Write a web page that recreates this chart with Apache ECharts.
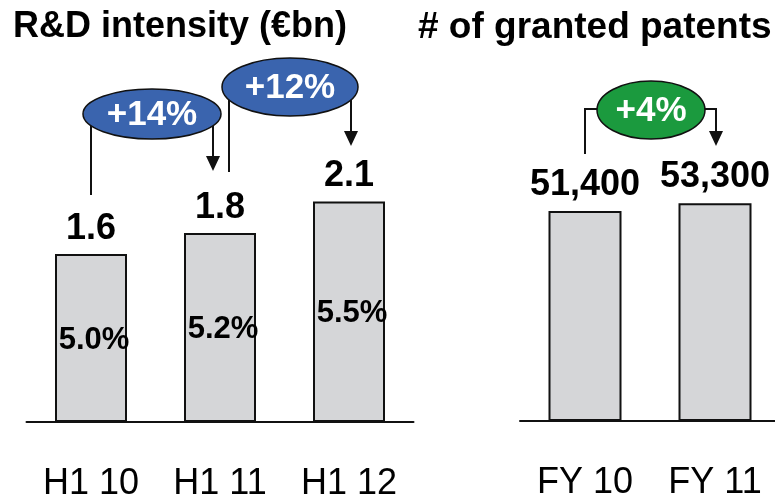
<!DOCTYPE html>
<html>
<head>
<meta charset="utf-8">
<script src="https://cdn.jsdelivr.net/npm/echarts@6/dist/echarts.min.js"></script>
<style>
  html, body { margin: 0; padding: 0; background: #fff; }
  #main { width: 775px; height: 495px; }
</style>
</head>
<body>
<div id="main"></div>
<script>
// R&D intensity (left panel)
const rdCategories = ['H1 10', 'H1 11', 'H1 12']
const rdValues = [1.6, 1.8, 2.1]
const rdIntensity = ['5.0%', '5.2%', '5.5%']
const rdGrowth = ['+14%', '+12%']

// granted patents (right panel)
const patCategories = ['FY 10', 'FY 11']
const patValues = [51400, 53300]
const patGrowth = ['+4%']

const FONT = 'Liberation Sans, Arial, sans-serif'
const BAR_FILL = '#d5d6d8'
const BLUE = '#3a64ae'
const GREEN = '#1b9a3e'

const myChart = echarts.init(document.getElementById('main'))

const axisX = (cats, idx) => ({
  type: 'category',
  gridIndex: idx,
  data: cats,
  axisLine: { lineStyle: { color: '#111', width: 2 } },
  axisTick: { show: false },
  axisLabel: { color: '#000', fontSize: 36, fontFamily: FONT, margin: 44 }
})
const axisY = (idx, max) => ({
  type: 'value', gridIndex: idx, min: 0, max: max, show: false, splitLine: { show: false }
})

const option = {
  animation: false,
  title: [
    { text: 'R&D intensity (€bn)', left: 13, top: 9, padding: 0,
      textStyle: { fontSize: 36, fontWeight: 'bold', color: '#000', fontFamily: FONT } },
    { text: '# of granted patents', left: 418, top: 9, padding: 0,
      textStyle: { fontSize: 37, fontWeight: 'bold', color: '#000', fontFamily: FONT } }
  ],
  grid: [
    { left: 26.5, width: 387, top: 107, height: 315, outerBoundsMode: 'none', containLabel: false },
    { left: 520, width: 260, top: 176, height: 245, outerBoundsMode: 'none', containLabel: false }
  ],
  xAxis: [axisX(rdCategories, 0), axisX(patCategories, 1)],
  yAxis: [axisY(0, 3), axisY(1, 60000)],
  series: [
    {
      type: 'bar', xAxisIndex: 0, yAxisIndex: 0, barWidth: 72,
      data: rdValues,
      itemStyle: { color: BAR_FILL, borderColor: '#111', borderWidth: 2 },
      label: { show: true, position: 'top', distance: 7, fontSize: 36, fontWeight: 'bold', color: '#000', fontFamily: FONT }
    },
    {
      type: 'bar', xAxisIndex: 0, yAxisIndex: 0, barWidth: 72, barGap: '-100%',
      data: rdValues,
      itemStyle: { color: 'transparent' },
      z: 3,
      label: {
        show: true, position: 'inside', offset: [3, 2],
        formatter: p => rdIntensity[p.dataIndex],
        fontSize: 31, fontWeight: 'bold', color: '#000', fontFamily: FONT
      }
    },
    {
      type: 'bar', xAxisIndex: 1, yAxisIndex: 1, barWidth: 73,
      data: patValues,
      itemStyle: { color: BAR_FILL, borderColor: '#111', borderWidth: 2 },
      label: {
        show: true, position: 'top', distance: 8,
        formatter: p => p.value.toLocaleString('en-US'),
        fontSize: 36, fontWeight: 'bold', color: '#000', fontFamily: FONT
      }
    }
  ]
}
myChart.setOption(option)

// growth bubbles + connector arrows, x positions from the axes
function barX (gridIdx, i) {
  return myChart.convertToPixel({ xAxisIndex: gridIdx, yAxisIndex: gridIdx }, [i, 0])[0]
}
const LINE = { stroke: '#111', lineWidth: 2 }
function arrowHead (x, tipY) {
  return { type: 'polygon', shape: { points: [[x - 7, tipY - 15], [x + 7, tipY - 15], [x, tipY]] }, style: { fill: '#111' }, z: 10 }
}
function bubble (cx, cy, rx, ry, fill, text) {
  return [
    { type: 'ellipse', shape: { cx: cx, cy: cy, rx: rx, ry: ry }, style: { fill: fill, stroke: '#111', lineWidth: 1.5 }, z: 20 },
    { type: 'text', x: cx, y: cy + 1, z: 21,
      style: { text: text, fill: '#fff', font: 'bold 35px ' + FONT, align: 'center', verticalAlign: 'middle' } }
  ]
}

const g = []
// +14%: H1 10 -> H1 11
let x0 = barX(0, 0)
let x1 = barX(0, 1)
g.push({ type: 'polyline', shape: { points: [[x0, 114], [x0, 195]] }, style: LINE, z: 10 })
g.push({ type: 'polyline', shape: { points: [[x1 - 7, 114], [x1 - 7, 158]] }, style: LINE, z: 10 })
g.push(arrowHead(x1 - 7, 171))
g.push(...bubble(152, 114, 69, 25, BLUE, rdGrowth[0]))
// +12%: H1 11 -> H1 12
x0 = barX(0, 1)
x1 = barX(0, 2)
g.push({ type: 'polyline', shape: { points: [[x0 + 9, 87], [x0 + 9, 172]] }, style: LINE, z: 10 })
g.push({ type: 'polyline', shape: { points: [[x1 + 2, 87], [x1 + 2, 133]] }, style: LINE, z: 10 })
g.push(arrowHead(x1 + 2, 146))
g.push(...bubble(290, 87, 68, 29, BLUE, rdGrowth[1]))
// +4%: FY 10 -> FY 11
x0 = barX(1, 0)
x1 = barX(1, 1)
g.push({ type: 'polyline', shape: { points: [[651, 109], [x0, 109], [x0, 154]] }, style: LINE, z: 10 })
g.push({ type: 'polyline', shape: { points: [[651, 109], [x1 + 1, 109], [x1 + 1, 133]] }, style: LINE, z: 10 })
g.push(arrowHead(x1 + 1, 146))
g.push(...bubble(651, 110, 54, 29, GREEN, patGrowth[0]))

myChart.setOption({ graphic: g })
</script>
</body>
</html>
